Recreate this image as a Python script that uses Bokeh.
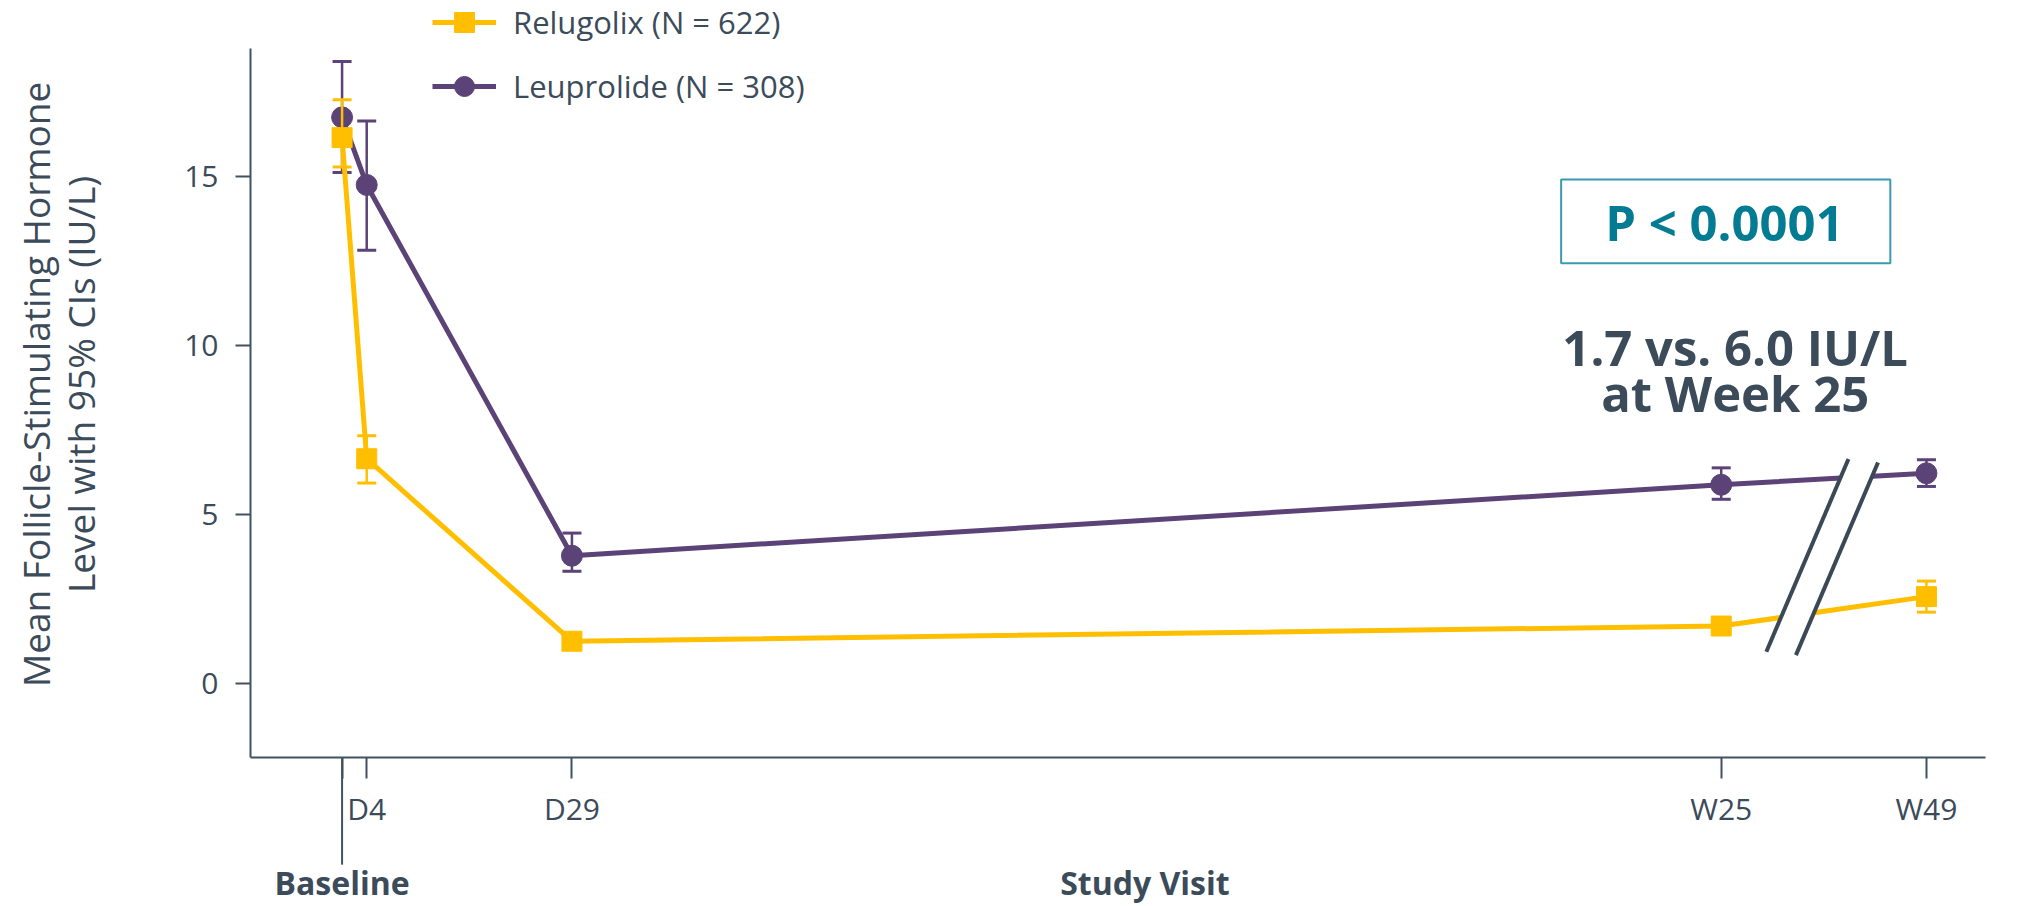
import math
from bokeh.plotting import figure
from bokeh.models import Legend, LegendItem, Label, FixedTicker, ColumnDataSource
from bokeh.embed import file_html
from bokeh.resources import INLINE

# ---------------- data ----------------
visit_labels = ["Baseline", "D4", "D29", "W25", "W49"]
visit_pos = [1, 4, 29, 169, 194]   # study day; W49 is drawn after an axis break

relugolix_mean = [16.15, 6.65, 1.25, 1.70, 2.57]
relugolix_lo = [15.28, 5.93, 1.12, 1.58, 2.11]
relugolix_hi = [17.27, 7.33, 1.38, 1.82, 3.03]

leuprolide_mean = [16.75, 14.75, 3.78, 5.88, 6.22]
leuprolide_lo = [15.12, 12.82, 3.32, 5.45, 5.83]
leuprolide_hi = [18.40, 16.64, 4.45, 6.38, 6.62]

y_ticks = [0, 5, 10, 15]

# ---------------- layout / style ----------------
FONT = "Open Sans"
TXT = "#3b4b5a"
AXIS = "#435260"
YELLOW = "#ffbf00"
PURPLE = "#5b4277"
TEAL = "#037b93"
TEAL_BOX = "#3a9bb0"

Y_MIN, Y_MAX = -2.2, 18.8          # visible axis extents
X_MIN, X_MAX = -10.16, 201.2

p = figure(width=2021, height=906, x_range=(-40.61, 205.58), y_range=(-6.598, 20.207),
           output_backend="svg", toolbar_location=None,
           min_border_left=0, min_border_right=0, min_border_top=0, min_border_bottom=0)
p.outline_line_color = None
p.xgrid.visible = False
p.ygrid.visible = False
p.background_fill_color = "white"
p.border_fill_color = "white"

for ax in (p.xaxis[0], p.yaxis[0]):
    ax.axis_line_color = AXIS
    ax.axis_line_width = 2
    ax.major_tick_line_color = AXIS
    ax.major_tick_line_width = 2
    ax.major_tick_in = 0
    ax.minor_tick_line_color = None
    ax.major_label_text_font = FONT
    ax.major_label_text_color = TXT
    ax.major_label_text_font_size = "30px"

p.yaxis[0].fixed_location = X_MIN
p.yaxis[0].bounds = (Y_MIN, Y_MAX)
p.yaxis[0].ticker = FixedTicker(ticks=y_ticks)
p.yaxis[0].major_tick_out = 15
p.yaxis[0].major_label_standoff = 17

p.xaxis[0].fixed_location = Y_MIN
p.xaxis[0].bounds = (X_MIN, X_MAX)
p.xaxis[0].ticker = FixedTicker(ticks=visit_pos)
p.xaxis[0].major_label_overrides = {visit_pos[i]: (visit_labels[i] if i > 0 else "")
                                    for i in range(len(visit_pos))}
p.xaxis[0].major_tick_out = 21
p.xaxis[0].major_label_standoff = 9

# long baseline tick
p.segment(x0=[visit_pos[0]], y0=[Y_MIN], x1=[visit_pos[0]], y1=[-5.36],
          line_color=AXIS, line_width=2)

# ---------------- series ----------------
def series(mean, lo, hi, color, marker, size):
    src = ColumnDataSource(dict(x=visit_pos, y=mean, lo=lo, hi=hi))
    p.segment(x0="x", y0="lo", x1="x", y1="hi", source=src, line_color=color, line_width=2.5)
    p.scatter(x="x", y="hi", source=src, marker="dash", size=19, line_color=color, line_width=3)
    p.scatter(x="x", y="lo", source=src, marker="dash", size=19, line_color=color, line_width=3)
    ln = p.line(x="x", y="y", source=src, line_color=color, line_width=5)
    mk = p.scatter(x="x", y="y", source=src, marker=marker, size=size,
                   fill_color=color, line_color=color, line_width=1)
    return ln, mk

leu_line, leu_mk = series(leuprolide_mean, leuprolide_lo, leuprolide_hi, PURPLE, "circle", 21)
rel_line, rel_mk = series(relugolix_mean, relugolix_lo, relugolix_hi, YELLOW, "square", 20)

# ---------------- axis break marks ----------------
bx = (visit_pos[3] + visit_pos[4]) / 2 - 0.2
by = 3.74
half_gap, sx, sy = 1.8, 5.0, 2.85
p.patch(x=[bx - half_gap - sx, bx - half_gap + sx, bx + half_gap + sx, bx + half_gap - sx],
        y=[by - sy + 0.05, by + sy + 0.05, by + sy - 0.05, by - sy - 0.05],
        fill_color="white", line_color=None)
for off, dy in ((-half_gap, 0.05), (half_gap, -0.05)):
    p.line(x=[bx + off - sx, bx + off + sx], y=[by - sy + dy, by + sy + dy],
           line_color="#3a4955", line_width=4)

# ---------------- legend ----------------
legend = Legend(items=[LegendItem(label="Relugolix (N = 622)", renderers=[rel_line, rel_mk]),
                       LegendItem(label="Leuprolide (N = 308)", renderers=[leu_line, leu_mk])],
                location=(432, 795), orientation="vertical",
                glyph_width=64, glyph_height=50, label_height=50, spacing=14,
                padding=0, margin=0, label_standoff=17,
                label_text_font=FONT, label_text_font_size="31px", label_text_color=TXT,
                border_line_color=None, background_fill_alpha=0)
p.add_layout(legend, "center")

# ---------------- texts ----------------
def lab(x, y, text, size, color=TXT, bold=False, angle=0.0, align="center", baseline="middle"):
    p.add_layout(Label(x=x, y=y, text=text, text_font=FONT, text_font_size=size,
                       text_color=color, text_font_style="bold" if bold else "normal",
                       angle=angle, text_align=align, text_baseline=baseline))

lab(-36.4, 8.85, "Mean Follicle-Stimulating Hormone", "37px", angle=math.pi / 2)
lab(-30.9, 8.85, "Level with 95% CIs (IU/L)", "37px", angle=math.pi / 2)
lab(visit_pos[0], -5.89, "Baseline", "32px", bold=True)
lab(98.8, -5.89, "Study Visit", "32px", bold=True)

# P-value box and annotation
p.quad(left=149.5, right=189.6, top=14.91, bottom=12.43, fill_color=None,
       line_color=TEAL_BOX, line_width=2)
lab(169.4, 13.64, "P < 0.0001", "49px", color=TEAL, bold=True)
lab(170.7, 9.97, "1.7 vs. 6.0 IU/L", "49px", bold=True)
lab(170.7, 8.58, "at Week 25", "49px", bold=True)

open("out.html", "w").write(file_html(p, INLINE))
